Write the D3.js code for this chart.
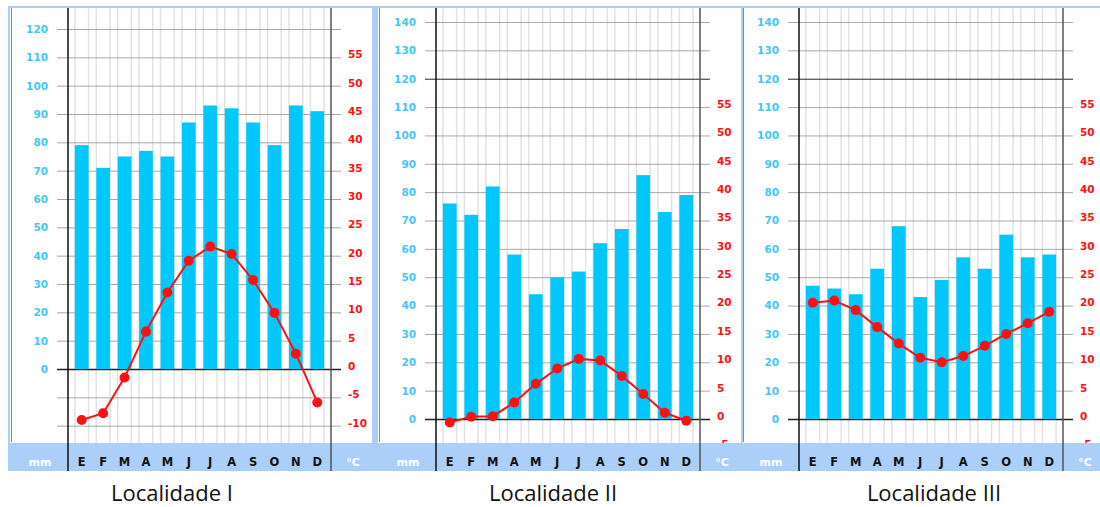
<!DOCTYPE html>
<html>
<head>
<meta charset="utf-8">
<script src="https://cdn.jsdelivr.net/npm/d3@7"></script>
<style>
  body { margin: 0; background: #fff; }
  svg { display: block; }
</style>
</head>
<body>
<svg id="chart" width="1100" height="507"></svg>
<script>
// month initials (Spanish/Portuguese style)
const months = ["E", "F", "M", "A", "M", "J", "J", "A", "S", "O", "N", "D"];

// precipitation (mm) and temperature (°C) per locality
const precipI   = [79, 71, 75, 77, 75, 87, 93, 92, 87, 79, 93, 91];
const tempI     = [-9, -7.8, -1.5, 6.6, 13.5, 19.1, 21.6, 20.3, 15.7, 9.9, 2.7, -5.9];
const precipII  = [76, 72, 82, 58, 44, 50, 52, 62, 67, 86, 73, 79];
const tempII    = [-0.6, 0.4, 0.5, 2.9, 6.2, 8.9, 10.6, 10.3, 7.6, 4.4, 1.1, -0.3];
const precipIII = [47, 46, 44, 53, 68, 43, 49, 57, 53, 65, 57, 58];
const tempIII   = [20.5, 20.9, 19.2, 16.2, 13.3, 10.8, 10.0, 11.1, 12.9, 15.0, 16.9, 18.9];

// tick values
const mmLabelsI  = [0, 10, 20, 30, 40, 50, 60, 70, 80, 90, 100, 110, 120];
const mmGridI    = [-20, -10, 0, 10, 20, 30, 40, 50, 60, 70, 80, 90, 100, 110, 120];
const tLabelsI   = [-10, -5, 0, 5, 10, 15, 20, 25, 30, 35, 40, 45, 50, 55];
const mmLabelsII = [0, 10, 20, 30, 40, 50, 60, 70, 80, 90, 100, 110, 120, 130, 140];
const mmGridII   = [0, 10, 20, 30, 40, 50, 60, 70, 80, 90, 100, 110, 120, 130, 140];
const tLabelsII  = [-5, 0, 5, 10, 15, 20, 25, 30, 35, 40, 45, 50, 55];

const captions = ["Localidade I", "Localidade II", "Localidade III"];

const BLUE_TXT = "#3fc8f8", BAR = "#00c8fc", RED = "#ff1010", BAND = "#abcff8";
const FONT = "'DejaVu Sans', sans-serif";

const panels = [
    {precip: precipI, temp: tempI, mmLabels: mmLabelsI, mmGrid: mmGridI, tLabels: tLabelsI, dark: [0],
     left: 68, right: 331, zero: 369, top: 29, topVal: 120, frameX: 11, capX: 172},
    {precip: precipII, temp: tempII, mmLabels: mmLabelsII, mmGrid: mmGridII, tLabels: tLabelsII, dark: [0, 120],
     left: 436, right: 700, zero: 419, top: 22, topVal: 140, frameX: 379, capX: 553},
    {precip: precipIII, temp: tempIII, mmLabels: mmLabelsII, mmGrid: mmGridII, tLabels: tLabelsII, dark: [0, 120],
     left: 799, right: 1063, zero: 419, top: 22, topVal: 140, frameX: 743, capX: 934}
];

var svg = d3.select("#chart");

// light blue frame pieces
svg.append("rect").attr("x", 8).attr("y", 6).attr("width", 1092).attr("height", 2).attr("fill", BAND);
svg.append("rect").attr("x", 8).attr("y", 6).attr("width", 2).attr("height", 465).attr("fill", BAND);
svg.append("rect").attr("x", 372).attr("y", 6).attr("width", 6).attr("height", 437).attr("fill", BAND);
svg.append("rect").attr("x", 741).attr("y", 6).attr("width", 2).attr("height", 437).attr("fill", BAND);

var layers = [];

panels.forEach(function (p, k) {
    var y = d3.scaleLinear().domain([0, p.topVal]).range([p.zero, p.top]);
    var t = d3.scaleLinear().domain([0, p.topVal / 2]).range([p.zero, p.top]);
    var x = d3.scaleBand()
        .domain(d3.range(12))
        .range([p.left + 3, p.right - 3])
        .paddingInner(0.36)
        .paddingOuter(0.18);

    var g = svg.append("g").attr("class", "panel");

    // thin gray inner frame line
    g.append("line")
        .attr("x1", p.frameX + 0.5).attr("x2", p.frameX + 0.5)
        .attr("y1", 8).attr("y2", 442)
        .attr("stroke", "#8a8a8a");

    // vertical light grid at bar edges
    var edges = [];
    d3.range(12).forEach(function (i) { edges.push(x(i), x(i) + x.bandwidth()); });
    g.append("g").selectAll("line")
        .data(edges)
        .enter().append("line")
        .attr("x1", d => d).attr("x2", d => d)
        .attr("y1", 8).attr("y2", 443)
        .attr("stroke", "#e2e2e2")
        .attr("stroke-width", 1.5);

    // horizontal grid
    var grid = g.append("g")
        .attr("transform", "translate(" + (p.left - 11) + ",0)")
        .call(d3.axisRight(y).tickValues(p.mmGrid).tickSize(p.right - p.left + 21).tickFormat(""));
    grid.select(".domain").remove();
    grid.selectAll("line")
        .attr("stroke", d => p.dark.indexOf(d) >= 0 ? "#222" : "#a8a8a8")
        .attr("stroke-width", d => d === 0 ? 1.5 : 1);

    // precipitation bars
    g.append("g").selectAll("rect")
        .data(p.precip)
        .enter().append("rect")
        .attr("x", (d, i) => x(i))
        .attr("y", d => y(d))
        .attr("width", x.bandwidth())
        .attr("height", d => y(0) - y(d))
        .attr("fill", BAR);

    // temperature line
    var line = d3.line()
        .x((d, i) => x(i) + x.bandwidth() / 2)
        .y(d => t(d));
    g.append("path")
        .attr("d", line(p.temp))
        .attr("fill", "none")
        .attr("stroke", RED)
        .attr("stroke-width", 2);
    g.append("g").selectAll("circle")
        .data(p.temp)
        .enter().append("circle")
        .attr("cx", (d, i) => x(i) + x.bandwidth() / 2)
        .attr("cy", d => t(d))
        .attr("r", 5)
        .attr("fill", RED);

    // left mm labels
    var yl = g.append("g")
        .attr("transform", "translate(" + (p.left - 20) + ",0)")
        .call(d3.axisLeft(y).tickValues(p.mmLabels).tickSize(0).tickPadding(0).tickFormat(d => String(d)));
    yl.select(".domain").remove();
    yl.selectAll("text")
        .attr("fill", BLUE_TXT)
        .style("font", "bold 10.5px " + FONT);

    // right temperature labels (plain hyphen for negatives)
    var yr = g.append("g")
        .attr("transform", "translate(" + (p.right + 17) + ",-3)")
        .call(d3.axisRight(t).tickValues(p.tLabels).tickSize(0).tickPadding(0).tickFormat(d => String(d)));
    yr.select(".domain").remove();
    yr.selectAll("text")
        .attr("fill", RED)
        .style("font", "bold 10.5px " + FONT);

    layers.push({p: p, x: x});
});

// bottom band
svg.append("rect")
    .attr("x", 8).attr("y", 443)
    .attr("width", 1092).attr("height", 28)
    .attr("fill", BAND);

layers.forEach(function (l, k) {
    var p = l.p, x = l.x;
    // axis frame lines
    svg.append("line")
        .attr("x1", p.left).attr("x2", p.left)
        .attr("y1", 8).attr("y2", 471)
        .attr("stroke", "#111").attr("stroke-width", 1.5);
    svg.append("line")
        .attr("x1", p.right).attr("x2", p.right)
        .attr("y1", 8).attr("y2", 471)
        .attr("stroke", "#555").attr("stroke-width", 1.5);

    // month initials
    svg.append("g").selectAll("text")
        .data(months)
        .enter().append("text")
        .attr("x", (d, i) => x(i) + x.bandwidth() / 2)
        .attr("y", 466)
        .attr("text-anchor", "middle")
        .style("font", "bold 11.5px " + FONT)
        .attr("fill", "#111")
        .text(d => d);

    svg.append("text")
        .attr("x", p.left - 28).attr("y", 466)
        .attr("text-anchor", "middle")
        .style("font", "bold 11px " + FONT)
        .attr("fill", "#fff")
        .text("mm");
    svg.append("text")
        .attr("x", p.right + 22).attr("y", 466)
        .attr("text-anchor", "middle")
        .style("font", "bold 11px " + FONT)
        .attr("fill", "#fff")
        .text("°C");

    svg.append("text")
        .attr("x", p.capX).attr("y", 501)
        .attr("text-anchor", "middle")
        .style("font", "22px 'Open Sans', sans-serif")
        .attr("fill", "#111")
        .text(captions[k]);
});
</script>
</body>
</html>
